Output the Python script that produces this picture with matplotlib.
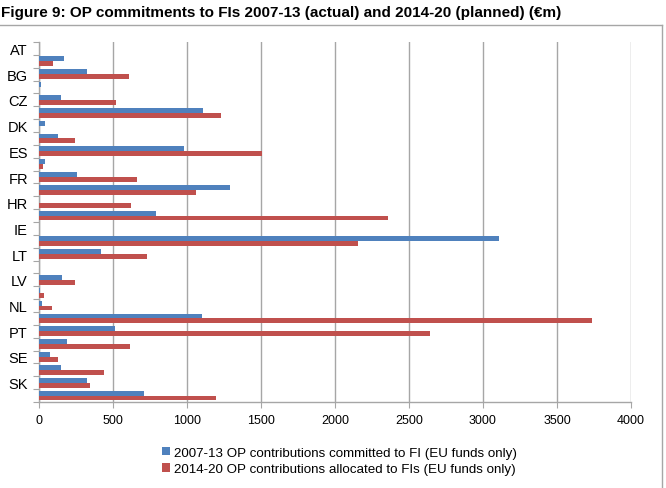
import matplotlib
matplotlib.use("Agg")
import matplotlib.pyplot as plt
import numpy as np

plt.rcParams['font.family'] = ['Liberation Sans', 'DejaVu Sans']

countries = ["AT", "BE", "BG", "CY", "CZ", "DE", "DK", "EE", "ES", "FI", "FR", "GR",
             "HR", "HU", "IE", "IT", "LT", "LU", "LV", "MT", "NL", "PL", "PT", "RO",
             "SE", "SI", "SK", "UK"]
committed_2007_13 = [0, 167, 324, 14, 149, 1111, 38, 128, 980, 38, 257, 1289,
                     0, 793, 0, 3106, 417, 0, 158, 10, 23, 1104, 511, 192,
                     72, 151, 327, 707]
allocated_2014_20 = [0, 95, 608, 0, 518, 1230, 0, 241, 1509, 27, 665, 1059,
                     622, 2361, 0, 2158, 728, 0, 246, 33, 86, 3735, 2645, 617,
                     131, 437, 343, 1194]
xticks = [0, 500, 1000, 1500, 2000, 2500, 3000, 3500, 4000]
series_names = ["2007-13 OP contributions committed to FI (EU funds only)",
                "2014-20 OP contributions allocated to FIs (EU funds only)"]
title = "Figure 9: OP commitments to FIs 2007-13 (actual) and 2014-20 (planned) (\u20acm)"

blue = "#4F81BD"
red = "#C0504D"
gray = "#A6A6A6"

fig = plt.figure(figsize=(6.66, 4.89), dpi=100)
ax = fig.add_axes([39/666, 1-403/489, (631-39)/666, (403-43)/489])

n = len(countries)
y = np.arange(n)
h = 0.37
ax.barh(y - 0.19, committed_2007_13, height=h, color=blue, label=series_names[0], zorder=3)
ax.barh(y + 0.19, allocated_2014_20, height=h, color=red, label=series_names[1], zorder=3)

ax.set_ylim(n - 0.5, -0.5)
ax.set_xlim(0, 4000)
ax.set_xticks(xticks)
ax.set_xticklabels([str(t) for t in xticks], fontsize=9)

# boundaries as major ticks, labels as minor at every other category
ax.set_yticks(np.arange(-0.5, n, 1.0))
ax.set_yticklabels([])
ax.set_yticks(y[::2], minor=True)
ax.set_yticklabels(countries[::2], minor=True, fontsize=10.5)
ax.tick_params(axis='y', which='major', length=4, color=gray, direction='out')
ax.tick_params(axis='y', which='minor', length=0, pad=8)
ax.tick_params(axis='x', length=4, color=gray, pad=5)

ax.grid(axis='x', color=gray, linewidth=1, zorder=0)
for s in ['top', 'right']:
    ax.spines[s].set_visible(False)
for s in ['left', 'bottom']:
    ax.spines[s].set_color(gray)
    ax.spines[s].set_linewidth(1)

fig.text(1/666, 1-13/489, title, fontsize=11, fontweight='bold', va='center', ha='left')

# chart frame lines (top and right)
fig.add_artist(plt.Line2D([0, 662/666], [1-26/489, 1-26/489], color=gray, linewidth=1, transform=fig.transFigure))
fig.add_artist(plt.Line2D([662/666, 662/666], [1-26/489, 0], color=gray, linewidth=1, transform=fig.transFigure))

leg = fig.legend(loc='center', bbox_to_anchor=(0.51, 1-462/489), ncol=1, frameon=False,
                 fontsize=9.6, handlelength=0.6, handleheight=0.6, handletextpad=0.3,
                 labelspacing=0.35)

fig.savefig("out.png", dpi=100)
